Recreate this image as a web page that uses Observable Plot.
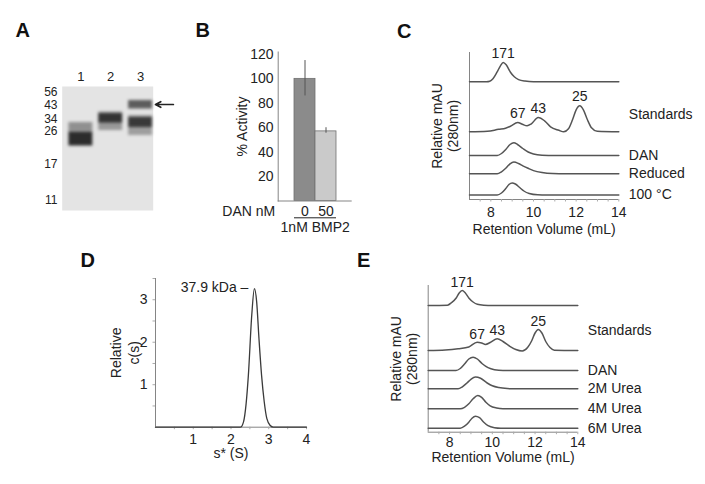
<!DOCTYPE html>
<html><head><meta charset="utf-8">
<script src="https://cdn.jsdelivr.net/npm/d3@7"></script>
<script src="https://cdn.jsdelivr.net/npm/@observablehq/plot@0.6"></script>
<style>
html,body{margin:0;padding:0;background:#fff;}
#fig{position:relative;width:705px;height:484px;overflow:hidden;background:#fff;font-family:"Liberation Sans",Arial,Helvetica,sans-serif;color:#222;}
.letter{position:absolute;font-weight:bold;font-size:20px;line-height:1;color:#111;}
</style></head>
<body><div id="fig"></div>
<script>
// ---------- Panel A: gel ----------
const markerKDa = [56, 43, 34, 26, 17, 11];
const markerMigration = [5.7, 19, 32.3, 45, 77.3, 113.3];
const lanes = [1, 2, 3];
const bandLane = [1, 1, 2, 2, 3, 3, 3];
const bandTop = [36, 46, 25.5, 27, 14, 29, 31];
const bandBottom = [47, 59.5, 44, 36.5, 22.5, 49, 41];
const bandDensity = [0.42, 0.92, 0.38, 0.82, 0.68, 0.35, 0.78];
const arrowLane = [3];
const arrowMigration = [18];

// ---------- Panel B: activity bars ----------
const danNM = ["0", "50"];
const activity = [100, 57];
const errLow = [86, 55.5];
const errHigh = [115, 60];
const activityTicks = [20, 40, 60, 80, 100, 120];

// ---------- Panel C: SEC traces ----------
const cNames = ["", "Standards", "DAN", "Reduced", "100 °C"];
const cX = [
  [7, 7.8, 7.95, 8.1, 8.29, 8.45, 8.58, 8.72, 8.92, 9.1, 9.3, 9.6, 10, 14],
  [7, 7.84, 8.37, 8.69, 8.92, 9.26, 9.48, 9.7, 9.9, 10.22, 10.52, 10.8, 11.19, 11.42, 11.64, 11.83, 12.0, 12.17, 12.34, 12.53, 12.72, 12.99, 14],
  [7, 8.3, 8.5, 8.7, 8.9, 9.08, 9.25, 9.5, 9.75, 10.0, 10.4, 11, 14],
  [7, 8.3, 8.5, 8.7, 8.9, 9.08, 9.3, 9.5, 9.75, 10.0, 10.4, 10.9, 11.5, 14],
  [7, 8.3, 8.5, 8.7, 8.85, 9.0, 9.15, 9.35, 9.55, 9.8, 10.2, 10.6, 14]
];
const cH = [
  [0, 0, 0.5, 3, 9.6, 16, 19.3, 17, 9.6, 5, 2.2, 0.7, 0.1, 0],
  [0, 0.5, 2.5, 3.5, 5.5, 9.3, 7.5, 6, 8, 14.3, 11, 5, 1.5, 0, 3, 12, 22, 26, 22, 12, 4, 0.5, 0],
  [0, 0, 2, 6, 11, 12.7, 11, 7, 3.5, 1.5, 0.3, 0, 0],
  [0, 0, 2, 5.5, 10, 11.7, 10.3, 8, 5.5, 3.2, 1.2, 0.2, 0, 0],
  [0, 0, 2, 6.5, 10.5, 12, 11, 7.5, 4, 1.5, 0.2, 0, 0]
];
const cOffset = [117.7, 67.7, 44, 25.7, 4.5];
const cPeakLabels = ["171", "67", "43", "25"];
const cPeakX = [8.58, 9.26, 10.22, 12.17];
const cPeakTrace = [0, 1, 1, 1];

// ---------- Panel D: c(s) distribution ----------
const dS = [0, 2.25, 2.33, 2.4, 2.46, 2.55, 2.62, 2.68, 2.74, 2.81, 2.88, 2.95, 3.04, 3.12, 4.0];
const dC = [0, 0, 0.12, 0.55, 1.22, 2.64, 3.26, 2.95, 2.1, 1.22, 0.6, 0.2, 0.04, 0, 0];
const dPeakLabel = ["37.9 kDa"];
const dXTicks = [1, 2, 3, 4];
const dYTicks = [1, 2, 3];

// ---------- Panel E: SEC traces in urea ----------
const eNames = ["", "Standards", "DAN", "2M Urea", "4M Urea", "6M Urea"];
const eX = [
  [7, 7.9, 8.1, 8.31, 8.45, 8.59, 8.72, 8.9, 9.1, 9.3, 9.6, 10, 14],
  [7, 7.8, 8.4, 8.9, 9.29, 9.5, 9.68, 9.9, 10.23, 10.5, 10.8, 11.1, 11.4, 11.65, 11.85, 12.0, 12.15, 12.32, 12.5, 12.7, 12.9, 14],
  [7, 8.3, 8.5, 8.7, 8.9, 9.1, 9.3, 9.53, 9.8, 10.1, 10.5, 14],
  [7, 8.4, 8.6, 8.8, 9.0, 9.21, 9.45, 9.76, 10.0, 10.3, 10.7, 11, 14],
  [7, 8.5, 8.7, 8.9, 9.1, 9.32, 9.5, 9.7, 9.9, 10.2, 10.5, 14],
  [7, 8.5, 8.7, 8.9, 9.05, 9.21, 9.4, 9.6, 9.8, 10.1, 10.4, 14]
];
const eH = [
  [0, 0.3, 3, 7.5, 12.5, 15, 13, 7.5, 3.5, 1.2, 0.3, 0, 0],
  [0, 0.5, 1.7, 3.5, 8.3, 7.5, 6, 8, 11.7, 9, 4.5, 1, -0.5, 3, 10, 17.5, 21, 17.5, 9, 3, 0.3, 0],
  [0, 0, 2, 6.5, 11.5, 13.3, 11.5, 6.7, 2.8, 0.8, 0, 0],
  [0, 0, 2, 5.5, 9.5, 11.7, 10.5, 5.8, 3, 1.2, 0.2, 0, 0],
  [0, 0, 1.5, 5, 10, 13.3, 11.5, 6.5, 3, 0.8, 0, 0],
  [0, 0, 2, 6, 10, 12, 10.5, 6, 2.5, 0.5, 0, 0]
];
const eOffset = [126.7, 81.7, 61.7, 43.4, 23.4, 4];
const ePeakLabels = ["171", "67", "43", "25"];
const ePeakX = [8.59, 9.29, 10.23, 12.15];
const ePeakTrace = [0, 1, 1, 1];

const retentionTicks = [8, 10, 12, 14];
const retentionMinor = d3.range(7.5, 14.01, 0.5);

// ---------- styling ----------
const FONT = '"Liberation Sans", Arial, Helvetica, sans-serif';
const baseStyle = {fontFamily: FONT, fontSize: "14px", color: "#222", background: "transparent", overflow: "visible"};
const AXIS = "#858585";
const CURVE = "#555";
const barFill = ["#8b8b8b", "#cacaca"];
const plain = d => String(d);

const fig = document.getElementById("fig");
function place(chart, left, top) {
  chart.style.position = "absolute";
  chart.style.left = left + "px";
  chart.style.top = top + "px";
  fig.appendChild(chart);
}
function letter(t, left, top) {
  const d = document.createElement("div");
  d.className = "letter"; d.textContent = t;
  d.style.left = left + "px"; d.style.top = top + "px";
  fig.appendChild(d);
}
function traceRows(xs, hs, offsets) {
  return xs.flatMap((xa, t) => xa.map((x, i) => ({t, x, y: offsets[t] + hs[t][i]})));
}
function peakRows(labels, px, pt, xs, hs, offsets) {
  return labels.map((label, j) => {
    const t = pt[j]; const i = xs[t].indexOf(px[j]);
    return {label, x: px[j], y: offsets[t] + hs[t][i]};
  });
}
function nameRows(names, offsets, lift) {
  return names.map((name, t) => ({name, y: offsets[t] + (name === "Standards" ? lift : 0)})).filter(d => d.name);
}

// ---------- A ----------
const gelBands = bandLane.map((lane, i) => ({lane, top: bandTop[i], bottom: bandBottom[i], density: bandDensity[i]}));
const chartA = Plot.plot({
  width: 200, height: 200, marginLeft: 61.7, marginRight: 47.3, marginTop: 46, marginBottom: 30,
  x: {domain: [0.375, 3.424], axis: null},
  y: {domain: [0, 124], reverse: true, axis: null},
  style: baseStyle,
  marks: [
    Plot.frame({fill: "#e4e4e4", stroke: "none"}),
    Plot.rect(gelBands, {x1: d => d.lane - 0.4, x2: d => d.lane + 0.4, y1: "top", y2: "bottom",
      fill: "#1c1c1c", fillOpacity: "density", imageFilter: "blur(1.6px)"}),
    Plot.axisX({anchor: "top", ticks: lanes, tickSize: 0, tickPadding: 6, tickFormat: plain, label: null, fontSize: 13}),
    Plot.axisY({ticks: markerMigration, tickSize: 0, tickPadding: 4.7, fontSize: 12,
      tickFormat: d => String(markerKDa[markerMigration.indexOf(d)]), label: null}),
    Plot.arrow(arrowLane.map((lane, i) => ({lane, mig: arrowMigration[i]})),
      {x1: d => d.lane + 1.1, x2: d => d.lane + 0.5, y1: "mig", y2: "mig",
       stroke: "#222", strokeWidth: 1.7, headLength: 7, headAngle: 55})
  ]
});
place(chartA, 0, 40);

// ---------- B ----------
const bars = danNM.map((k, i) => ({k, v: activity[i], lo: errLow[i], hi: errHigh[i]}));
const chartB = Plot.plot({
  width: 170, height: 200, marginLeft: 77.7, marginRight: 18.3, marginTop: 11.5, marginBottom: 39.5,
  x: {domain: danNM, paddingInner: 0, paddingOuter: 0.73, axis: null},
  y: {domain: [0, 122], axis: null},
  style: baseStyle,
  marks: [
    Plot.barY(bars, {x: "k", y: "v", fill: d => barFill[danNM.indexOf(d.k)], stroke: "#707070", strokeWidth: 0.8}),
    Plot.ruleX(bars, {x: "k", y1: "lo", y2: "hi", stroke: "#555", strokeWidth: 1}),
    Plot.ruleY([0], {stroke: AXIS}),
    Plot.frame({anchor: "left", stroke: AXIS}),
    Plot.axisY({ticks: activityTicks, tickSize: 0, tickPadding: 4.7, tickFormat: plain, label: null}),
    Plot.axisX({tickSize: 0, tickPadding: 5.5, label: null}),
    Plot.tickY(danNM, {x: d => d, y: () => 0, dy: 16.8, stroke: "#222", strokeWidth: 1}),
    Plot.text(["DAN nM"], {frameAnchor: "bottom-left", textAnchor: "end", dx: -3, dy: 10.5, lineAnchor: "middle"}),
    Plot.text(["1nM BMP2"], {frameAnchor: "bottom", textAnchor: "middle", dy: 26.2, lineAnchor: "middle"}),
    Plot.text(["% Activity"], {frameAnchor: "left", textAnchor: "middle", rotate: -90, dx: -36, lineAnchor: "middle"})
  ]
});
place(chartB, 200, 40);

// ---------- C ----------
const chartC = Plot.plot({
  width: 335, height: 210, marginLeft: 99, marginRight: 86.7, marginTop: 12, marginBottom: 51,
  x: {domain: [7, 14], axis: null},
  y: {domain: [0, 147], axis: null},
  style: baseStyle,
  marks: [
    Plot.ruleX([7], {stroke: AXIS}),
    Plot.ruleY([0], {stroke: AXIS}),
    Plot.axisX({ticks: retentionMinor, tickSize: 2.5, tickFormat: () => "", stroke: "#aaa", label: null}),
    Plot.axisX({ticks: retentionTicks, tickSize: 0, tickPadding: 7.7, tickFormat: plain, label: null}),
    Plot.line(traceRows(cX, cH, cOffset), {x: "x", y: "y", z: "t", curve: "monotone-x", stroke: CURVE, strokeWidth: 1.5}),
    Plot.text(peakRows(cPeakLabels, cPeakX, cPeakTrace, cX, cH, cOffset), {x: "x", y: "y", text: "label", dy: -9, lineAnchor: "middle"}),
    Plot.text(nameRows(cNames, cOffset, 17.3), {x: () => 14, y: "y", text: "name", dx: 10, textAnchor: "start", lineAnchor: "middle"}),
    Plot.text(["Retention Volume (mL)"], {frameAnchor: "bottom", textAnchor: "middle", dy: 30, lineAnchor: "middle"}),
    Plot.text(["Relative mAU\n(280nm)"], {frameAnchor: "left", textAnchor: "middle", rotate: -90, dx: -24.3, lineAnchor: "middle", lineHeight: 1.14})
  ]
});
place(chartC, 370, 40);

// ---------- D ----------
const chartD = Plot.plot({
  width: 370, height: 234, marginLeft: 155, marginRight: 64, marginTop: 28, marginBottom: 57.3,
  x: {domain: [0, 4], axis: null},
  y: {domain: [0, 3.5], axis: null},
  style: baseStyle,
  marks: [
    Plot.ruleX([0], {stroke: AXIS}),
    Plot.ruleY([0], {stroke: AXIS}),
    Plot.axisX({ticks: d3.range(0.5, 4.01, 0.5), tickSize: 2.5, tickFormat: () => "", stroke: "#aaa", label: null}),
    Plot.axisY({ticks: d3.range(0.5, 3.51, 0.5), tickSize: 2.5, tickFormat: () => "", stroke: "#aaa", label: null}),
    Plot.axisX({ticks: dXTicks, tickSize: 0, tickPadding: 6.6, tickFormat: plain, label: null}),
    Plot.axisY({ticks: dYTicks, tickSize: 0, tickPadding: 8, tickFormat: plain, label: null}),
    Plot.line(dS.map((s, i) => ({s, c: dC[i]})), {x: "s", y: "c", curve: "monotone-x", stroke: "#3a3a3a", strokeWidth: 1.3}),
    Plot.text(dPeakLabel.map(label => {
      const i = dC.indexOf(d3.max(dC));
      return {label, s: dS[i], c: dC[i]};
    }), {x: "s", y: "c", text: d => d.label + " –", textAnchor: "end", dx: -6, dy: -1.5, lineAnchor: "middle"}),
    Plot.text(["s* (S)"], {frameAnchor: "bottom", textAnchor: "middle", dy: 26.6, lineAnchor: "middle"}),
    Plot.text(["Relative\nc(s)"], {frameAnchor: "left", textAnchor: "middle", rotate: -90, dx: -31.5, lineAnchor: "middle", lineHeight: 1.3})
  ]
});
place(chartD, 0, 250);

// ---------- E ----------
const chartE = Plot.plot({
  width: 335, height: 234, marginLeft: 57.7, marginRight: 127.7, marginTop: 35, marginBottom: 52.3,
  x: {domain: [7, 14], axis: null},
  y: {domain: [0, 146.7], axis: null},
  style: baseStyle,
  marks: [
    Plot.ruleX([7], {stroke: AXIS}),
    Plot.ruleY([0], {stroke: AXIS}),
    Plot.axisX({ticks: retentionMinor, tickSize: 2.5, tickFormat: () => "", stroke: "#aaa", label: null}),
    Plot.axisX({ticks: retentionTicks, tickSize: 0, tickPadding: 5, tickFormat: plain, label: null}),
    Plot.line(traceRows(eX, eH, eOffset), {x: "x", y: "y", z: "t", curve: "monotone-x", stroke: CURVE, strokeWidth: 1.5}),
    Plot.text(peakRows(ePeakLabels, ePeakX, ePeakTrace, eX, eH, eOffset), {x: "x", y: "y", text: "label", dy: -8, lineAnchor: "middle"}),
    Plot.text(nameRows(eNames, eOffset, 20), {x: () => 14, y: "y", text: "name", dx: 10, textAnchor: "start", lineAnchor: "middle"}),
    Plot.text(["Retention Volume (mL)"], {frameAnchor: "bottom", textAnchor: "middle", dy: 25.6, lineAnchor: "middle"}),
    Plot.text(["Relative mAU\n(280nm)"], {frameAnchor: "left", textAnchor: "middle", rotate: -90, dx: -24, lineAnchor: "middle", lineHeight: 1.14})
  ]
});
place(chartE, 370, 250);

letter("A", 15.5, 20.4);
letter("B", 195.5, 20.4);
letter("C", 397, 21);
letter("D", 80.5, 250.4);
letter("E", 357, 250.4);
</script>
</body></html>
